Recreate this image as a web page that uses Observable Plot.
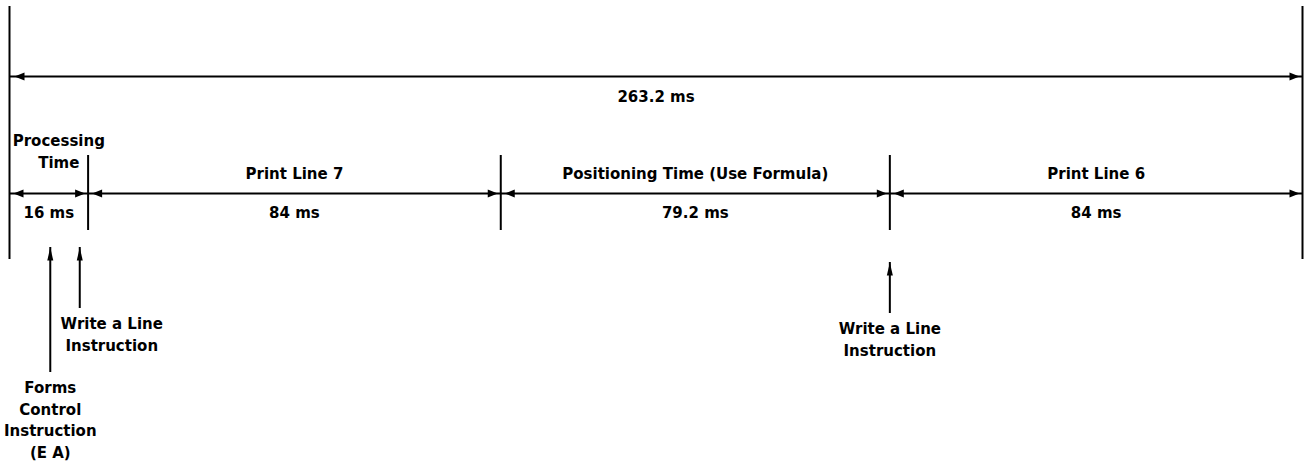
<!DOCTYPE html>
<html><head><meta charset="utf-8">
<script src="https://cdn.jsdelivr.net/npm/d3@7"></script>
<script src="https://cdn.jsdelivr.net/npm/@observablehq/plot@0.6"></script>
<style>body{margin:0;background:#fff} svg{display:block;background:#fff}</style>
</head><body><div id="chart"></div>
<script>
// ---- data ----
const segments = ["Processing\nTime", "Print Line 7", "Positioning Time (Use Formula)", "Print Line 6"];
const durations = [16, 84, 79.2, 84];
const durationLabels = ["16 ms", "84 ms", "79.2 ms", "84 ms"];
const totalLabel = "263.2 ms";
const events = ["Forms\nControl\nInstruction\n(E A)", "Write a Line\nInstruction", "Write a Line\nInstruction"];
const eventTimes = [8.3, 14.3, 179.2];

// ---- derived ----
const ends = Array.from(d3.cumsum(durations));
const starts = [0, ...ends.slice(0, -1)];
const total = ends[ends.length - 1];
const segs = segments.map((name, i) => ({name, label: durationLabels[i], start: starts[i], end: ends[i], mid: (starts[i] + ends[i]) / 2}));
const inner = ends.slice(0, -1);

// ---- layout (diagram rows, in vertical units) ----
const L = {
  outerTop: 6, outerBottom: 259,
  totalY: 76, totalLabelY: 97,
  segY: 193, segTitleY: 174, segValueY: 213,
  innerTop: 155, innerBottom: 230
};
const eventLayout = [
  {tip: 247, bottom: 372, dx: 0},
  {tip: 247, bottom: 308, dx: 32},
  {tip: 262, bottom: 313, dx: 0}
];
const ev = events.map((text, i) => ({text, t: eventTimes[i], ...eventLayout[i]}));

const headH = {draw(ctx) { ctx.moveTo(0, 0); ctx.lineTo(-10, -4); ctx.lineTo(-10, 4); ctx.closePath(); }};
const headV = {draw(ctx) { ctx.moveTo(0, 0); ctx.lineTo(-13, -3); ctx.lineTo(-13, 3); ctx.closePath(); }};

const font = {fontFamily: "DejaVu Sans", fontWeight: "bold", fontSize: 15, fill: "black"};

const chart = Plot.plot({
  width: 1307, height: 462,
  margin: 0,
  x: {domain: [0, total], range: [9, 1302], axis: null},
  y: {domain: [0, 462], range: [0, 462], axis: null},
  style: {background: "white"},
  marks: [
    Plot.ruleX([0, total], {y1: L.outerTop, y2: L.outerBottom, strokeWidth: 2, stroke: "black"}),
    Plot.ruleX(inner, {y1: L.innerTop, y2: L.innerBottom, strokeWidth: 2, stroke: "black"}),
    Plot.ruleY([L.totalY], {x1: 0, x2: total, strokeWidth: 2, stroke: "black"}),
    Plot.ruleY(segs, {y: () => L.segY, x1: "start", x2: "end", strokeWidth: 2, stroke: "black"}),
    // arrowheads total
    Plot.dot([total], {x: d => d, y: () => L.totalY, symbol: headH, r: 4, fill: "black", stroke: null, dx: -3}),
    Plot.dot([0], {x: d => d, y: () => L.totalY, symbol: headH, r: 4, fill: "black", stroke: null, rotate: 180, dx: 5}),
    // arrowheads segments
    Plot.dot(segs, {x: "end", y: () => L.segY, symbol: headH, r: 4, fill: "black", stroke: null, dx: -3}),
    Plot.dot(segs, {x: "start", y: () => L.segY, symbol: headH, r: 4, fill: "black", stroke: null, rotate: 180, dx: 4}),
    // labels
    Plot.text([totalLabel], {x: total / 2, y: L.totalLabelY, text: d => d, ...font}),
    Plot.text(segs.slice(1), {x: "mid", y: () => L.segTitleY, text: "name", ...font}),
    Plot.text(segs.slice(0, 1), {x: "mid", y: () => L.segTitleY, text: "name", lineAnchor: "bottom", lineHeight: 1.45, dx: 10, dy: -7, ...font}),
    Plot.text(segs, {x: "mid", y: () => L.segValueY, text: "label", ...font}),
    // events
    Plot.ruleX(ev, {x: "t", y1: "tip", y2: "bottom", strokeWidth: 2, stroke: "black"}),
    Plot.dot(ev, {x: "t", y: "tip", symbol: headV, r: 4, fill: "black", stroke: null, rotate: -90}),
    ...ev.map(e => Plot.text([e], {x: "t", y: d => d.bottom + 5, text: "text", lineAnchor: "top", lineHeight: 1.45, dx: e.dx, ...font}))
  ]
});
document.getElementById("chart").append(chart);
</script>
</body></html>
